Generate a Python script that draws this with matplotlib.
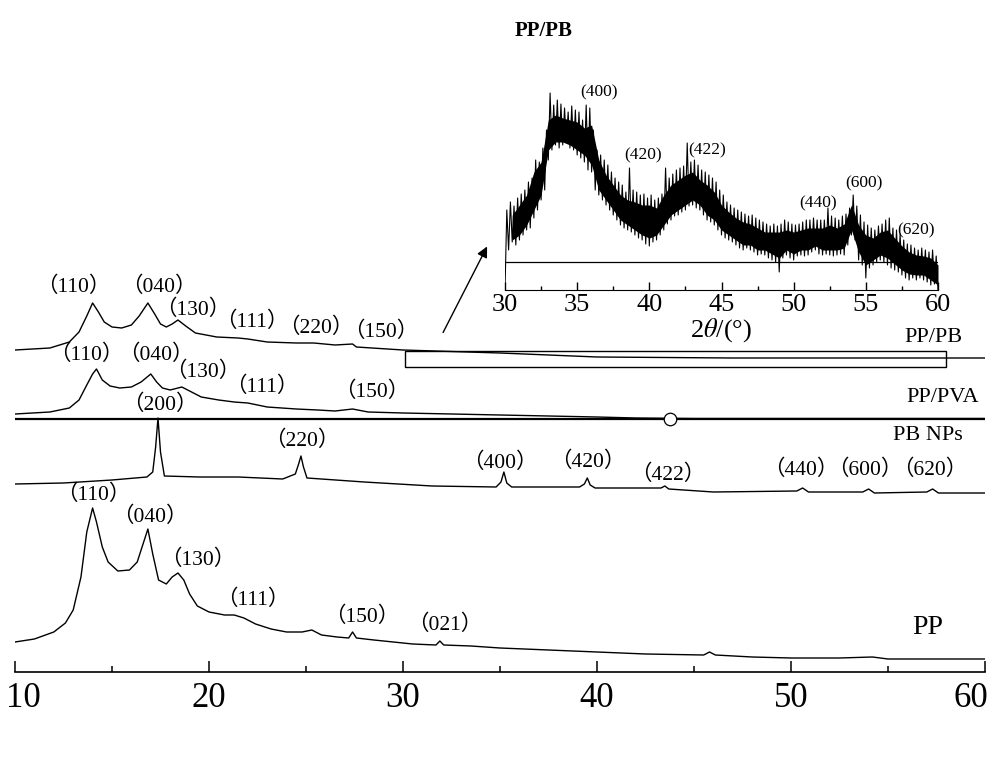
import numpy as np
import matplotlib
matplotlib.use('Agg')
import matplotlib.pyplot as plt
import matplotlib.transforms as mtransforms
from matplotlib.patches import Rectangle

plt.rcParams['font.family'] = ['Liberation Serif', 'Noto Sans CJK SC']
plt.rcParams['mathtext.fontset'] = 'stix'

# ---- data (2theta in degrees, intensity in arbitrary stacked units) ----
pp_x = [10.0, 11.0, 12.0, 12.6, 13.0, 13.4, 13.7, 14.0, 14.2, 14.5, 14.8, 15.3, 15.9, 16.3, 16.6,
        16.85, 17.1, 17.4, 17.8, 18.1, 18.4, 18.7, 19.0, 19.4, 20.0, 20.8, 21.3, 21.8, 22.4, 23.2,
        24.0, 24.8, 25.3, 25.8, 26.6, 27.2, 27.4, 27.6, 28.5, 29.5, 30.5, 31.7, 31.9, 32.1, 33.5,
        35, 37.5, 40, 42.5, 45.5, 45.8, 46.1, 48, 50, 52.5, 54.2, 55, 57.5, 60]
pp_y = [30, 33, 40, 49, 62, 95, 140, 164, 150, 125, 110, 101, 102, 110, 128,
        143, 118, 92, 88, 95, 99, 92, 78, 66, 60, 57, 57, 54, 48, 43,
        40, 40, 42, 37, 35, 34, 40, 34, 32, 30, 28, 27, 31, 27, 26,
        24, 22, 20, 18, 17, 20, 17, 15, 14, 14, 15, 13, 13, 13]

pb_x = [10, 12.5, 15, 16.8, 17.1, 17.25, 17.37, 17.5, 17.7, 19.5, 21.5, 23.8, 24.45, 24.62, 24.74,
        24.87, 25.05, 28, 31.5, 34.8, 35.05, 35.2, 35.35, 35.6, 39.1, 39.35, 39.5, 39.65, 39.9, 43.3,
        43.5, 43.7, 46, 50.3, 50.6, 50.9, 53.7, 54.0, 54.3, 57.0, 57.3, 57.6, 60]
pb_y = [188, 189, 192, 195, 200, 225, 254, 220, 196, 195, 195, 193, 198, 208, 216,
        205, 194, 190, 186, 185, 190, 200, 189, 185, 185, 188, 194, 187, 184, 184,
        186, 183, 180, 181, 184, 180, 180, 183, 179, 180, 183, 179, 179]

pva_x = [10, 11.8, 12.8, 13.3, 13.7, 14.0, 14.2, 14.5, 14.9, 15.4, 16.0, 16.5, 17.0, 17.3, 17.6,
         18.0, 18.6, 19.0, 19.6, 20.5, 21.3, 22.0, 23.0, 24.5, 25.6, 26.5, 27.4, 28.2, 30, 35,
         40, 42, 45, 50, 55, 60]
pva_y = [258, 260, 264, 272, 287, 298, 303, 292, 286, 284, 285, 290, 298, 290, 284,
         282, 285, 281, 275, 272, 270, 269, 265, 263, 262, 261, 263, 260, 259, 257,
         255, 254, 253.5, 253.5, 253.5, 253.5]

ppb_x = [10, 11.8, 12.8, 13.3, 13.7, 14.0, 14.3, 14.6, 15.0, 15.5, 16.0, 16.4, 16.85, 17.2, 17.5,
         17.8, 18.1, 18.4, 18.8, 19.3, 20.4, 21.5, 22.0, 23.0, 24.5, 25.4, 26.5, 27.4, 27.6, 30,
         35, 40, 47, 54, 60]
ppb_y = [322, 324, 330, 340, 356, 369, 360, 350, 345, 344, 347, 356, 369, 358, 348,
         345, 348, 352, 346, 339, 335, 334, 333, 330, 329, 329, 327, 328, 325, 322,
         319, 315, 314, 314, 314]

# inset: PP/PB 30-60 deg, noisy trace every 0.125 deg (one row per degree)
inset_x = np.arange(30, 60.001, 0.125)
inset_y = [0, 80, 40, 88, 48, 84, 45, 92,
           50, 96, 55, 100, 60, 108, 62, 112,
           72, 130, 80, 128, 90, 142, 100, 160,
           130, 197, 140, 185, 145, 190, 142, 186,
           145, 182, 148, 178, 142, 184, 140, 180,
           135, 178, 132, 170, 128, 185, 120, 182,
           118, 160, 100, 140, 95, 135, 90, 130,
           85, 125, 80, 118, 75, 112, 70, 108,
           65, 105, 62, 98, 60, 122, 58, 100,
           55, 98, 52, 95, 50, 96, 46, 92,
           44, 95, 48, 90, 50, 92, 55, 96,
           60, 122, 66, 112, 70, 116, 74, 120,
           75, 122, 78, 124, 80, 147, 84, 128,
           85, 130, 82, 125, 80, 120, 75, 118,
           70, 115, 68, 112, 65, 108, 60, 100,
           55, 95, 52, 88, 50, 85, 48, 82,
           45, 80, 42, 78, 40, 76, 42, 74,
           40, 75, 38, 72, 35, 70, 36, 68,
           35, 66, 32, 64, 30, 66, 28, 64,
           18, 66, 32, 70, 35, 68, 32, 66,
           30, 65, 34, 66, 35, 68, 34, 70,
           35, 70, 38, 72, 40, 70, 36, 70,
           35, 70, 36, 82, 35, 74, 34, 72,
           35, 70, 36, 74, 35, 76, 45, 82,
           55, 95, 50, 84, 30, 75, 25, 68,
           12, 65, 22, 62, 25, 60, 28, 64,
           30, 66, 28, 70, 25, 72, 22, 62,
           20, 60, 18, 56, 15, 50, 12, 46,
           10, 45, 12, 42, 10, 40, 12, 42,
           10, 40, 8, 38, 5, 40, 6, 34,
           0]
# dense core of the noisy band, every 0.5 deg
band_x = np.arange(30.5, 60.001, 0.5)
band_hi = [75, 85, 95, 118, 128, 170, 175, 172, 170, 168, 162, 165, 130, 115, 105, 95, 90, 88, 85, 85,
           82, 95, 105, 110, 115, 118, 110, 105, 98, 85, 78, 72, 68, 66, 62, 58, 58, 58, 60, 58,
           60, 62, 62, 62, 65, 62, 66, 85, 65, 55, 52, 58, 60, 52, 44, 38, 35, 34, 32, 25]
band_lo = [50, 55, 65, 80, 95, 140, 148, 148, 145, 140, 135, 125, 100, 90, 80, 70, 65, 60, 55, 52,
           55, 65, 75, 80, 85, 90, 85, 75, 70, 60, 55, 50, 45, 45, 40, 40, 36, 32, 40, 36,
           40, 40, 44, 40, 40, 40, 42, 60, 38, 25, 30, 35, 32, 26, 20, 16, 15, 15, 10, 5]
inset_base = 28

sep_level = 253
zoom_box = (30.1, 305, 27.9, 16)

# peak labels: text, x, y
pp_labels = [('（110）', 14.02, 177), ('（040）', 16.96, 155), ('（130）', 19.43, 112),
             ('（111）', 22.27, 72), ('（150）', 27.89, 55), ('（021）', 32.16, 47)]
pb_labels = [('（200）', 17.47, 267), ('（220）', 24.79, 231), ('（400）', 35.0, 209),
             ('（420）', 39.54, 210), ('（422）', 43.66, 197), ('（440）', 50.5, 202),
             ('（600）', 53.8, 202), ('（620）', 57.15, 202)]
pva_labels = [('（110）', 13.66, 317), ('（040）', 17.27, 317), ('（130）', 19.69, 300),
              ('（111）', 22.73, 285), ('（150）', 28.40, 280)]
ppb_labels = [('（110）', 12.99, 385), ('（040）', 17.42, 385), ('（130）', 19.18, 362),
              ('（111）', 22.2, 350), ('（220）', 25.5, 344), ('（150）', 28.85, 340)]
name_labels = [('PP/PB', 57.32, 335, 16), ('PP/PVA', 57.84, 274, 16),
               ('PB NPs', 57.06, 236, 16), ('PP', 57.06, 44, 20)]
inset_labels = [('(400)', 36.5, 198), ('(420)', 39.6, 135), ('(422)', 44.0, 140),
                ('(440)', 51.7, 87), ('(600)', 54.9, 107), ('(620)', 58.5, 60)]

fig = plt.figure(figsize=(10, 7.65), dpi=100)
ax = fig.add_axes([0.015, 93 / 765, 0.97, 672 / 765])

for xs, ys in [(pp_x, pp_y), (pb_x, pb_y), (pva_x, pva_y), (ppb_x, ppb_y)]:
    ax.plot(xs, ys, color='black', lw=1.0)
ax.axhline(sep_level, color='black', lw=1.6)
ax.plot(43.76, sep_level, 'o', mfc='white', mec='black', ms=9, mew=0.9)
ax.add_patch(Rectangle(zoom_box[:2], zoom_box[2], zoom_box[3], fill=False, lw=1.0, ec='black'))
ax.annotate('', xy=(34.4, 428), xytext=(32.0, 337),
            arrowprops=dict(arrowstyle='-|>', lw=1.0, color='black', mutation_scale=16))

for group in [pp_labels, pb_labels, pva_labels, ppb_labels]:
    for txt, x, y in group:
        ax.text(x, y, txt, ha='center', va='center', fontsize=15.5)
for txt, x, y, fs in name_labels:
    ax.text(x, y, txt, ha='center', va='center', fontsize=fs)

ax.set_xlim(10, 60)
ax.set_ylim(0, 672)
for s in ['left', 'top', 'right']:
    ax.spines[s].set_visible(False)
ax.spines['bottom'].set_linewidth(1.2)
ax.set_yticks([])
ax.set_xticks(np.arange(10, 61, 10))
ax.set_xticks(np.arange(15, 60, 10), minor=True)
ax.tick_params(axis='x', which='major', direction='in', length=8, width=1.1, labelsize=25, pad=7)
ax.tick_params(axis='x', which='minor', direction='in', length=4, width=1.1)
ax.patch.set_alpha(0)
# outer tick labels sit a little inward, as in the original
fig.canvas.draw()
tl = ax.get_xticklabels()
tl[0].set_transform(tl[0].get_transform() + mtransforms.Affine2D().translate(8, 0))
tl[-1].set_transform(tl[-1].get_transform() + mtransforms.Affine2D().translate(-14, 0))

# inset
ins = fig.add_axes([0.505, (765 - 290) / 765, 0.433, 205 / 765])
ins.fill_between(band_x, band_lo, band_hi, color='black', lw=0)
ins.plot(inset_x, inset_y, color='black', lw=0.8)
ins.axhline(inset_base, color='black', lw=0.9)
for txt, x, y in inset_labels:
    ins.text(x, y, txt, ha='center', va='center', fontsize=12.5)
ins.set_xlim(30, 60)
ins.set_ylim(0, 205)
for s in ['left', 'top', 'right']:
    ins.spines[s].set_visible(False)
ins.set_yticks([])
ins.set_xticks(np.arange(30, 61, 5))
ins.set_xticks(np.arange(32.5, 60, 5), minor=True)
ins.tick_params(axis='x', which='major', direction='in', length=6, width=1.0, labelsize=19, pad=3)
ins.tick_params(axis='x', which='minor', direction='in', length=3, width=1.0)
ins.set_xlabel(r'2$\it{\theta}$/(°)', fontsize=19, labelpad=0)
ins.patch.set_alpha(0)

fig.text(0.544, 1 - 31 / 765, 'PP/PB', ha='center', va='center', fontsize=15, fontweight='bold')

fig.savefig('out.png', dpi=100)
